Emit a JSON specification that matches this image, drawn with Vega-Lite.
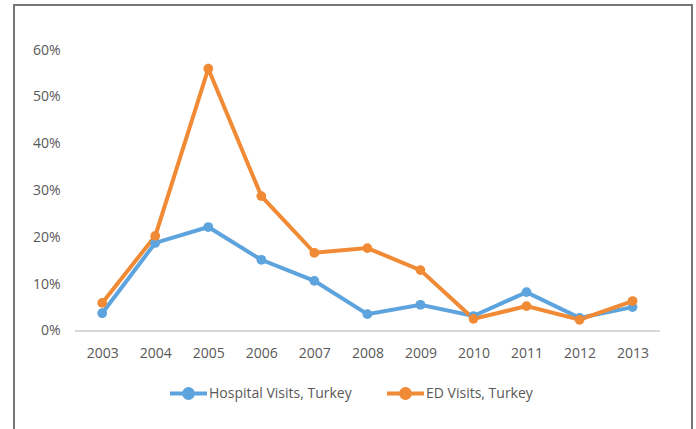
{
  "$schema": "https://vega.github.io/schema/vega-lite/v6.json",
  "autosize": "none",
  "padding": {"left": 14, "top": 5, "right": 4, "bottom": 0},
  "width": 678,
  "height": 425,
  "config": {
    "view": {"stroke": "#767676", "strokeWidth": 2},
    "font": "Open Sans",
    "axis": {"labelFont": "Open Sans", "labelFontSize": 14, "labelColor": "#595959", "grid": false, "domain": false, "ticks": false},
    "legend": {"labelFont": "Open Sans", "labelFontSize": 14, "labelColor": "#595959"}
  },
  "data": {
    "values": [
      {"year": 2003, "series": "Hospital Visits, Turkey", "value": 0.038},
      {"year": 2004, "series": "Hospital Visits, Turkey", "value": 0.188},
      {"year": 2005, "series": "Hospital Visits, Turkey", "value": 0.222},
      {"year": 2006, "series": "Hospital Visits, Turkey", "value": 0.152},
      {"year": 2007, "series": "Hospital Visits, Turkey", "value": 0.107},
      {"year": 2008, "series": "Hospital Visits, Turkey", "value": 0.036},
      {"year": 2009, "series": "Hospital Visits, Turkey", "value": 0.056},
      {"year": 2010, "series": "Hospital Visits, Turkey", "value": 0.032},
      {"year": 2011, "series": "Hospital Visits, Turkey", "value": 0.083},
      {"year": 2012, "series": "Hospital Visits, Turkey", "value": 0.028},
      {"year": 2013, "series": "Hospital Visits, Turkey", "value": 0.051},
      {"year": 2003, "series": "ED Visits, Turkey", "value": 0.060},
      {"year": 2004, "series": "ED Visits, Turkey", "value": 0.203},
      {"year": 2005, "series": "ED Visits, Turkey", "value": 0.560},
      {"year": 2006, "series": "ED Visits, Turkey", "value": 0.288},
      {"year": 2007, "series": "ED Visits, Turkey", "value": 0.167},
      {"year": 2008, "series": "ED Visits, Turkey", "value": 0.177},
      {"year": 2009, "series": "ED Visits, Turkey", "value": 0.130},
      {"year": 2010, "series": "ED Visits, Turkey", "value": 0.026},
      {"year": 2011, "series": "ED Visits, Turkey", "value": 0.053},
      {"year": 2012, "series": "ED Visits, Turkey", "value": 0.024},
      {"year": 2013, "series": "ED Visits, Turkey", "value": 0.064}
    ]
  },
  "encoding": {
    "x": {
      "field": "year", "type": "quantitative",
      "scale": {"domain": [2001.337, 2014.12], "nice": false, "zero": false},
      "axis": {"title": null, "values": [2003, 2004, 2005, 2006, 2007, 2008, 2009, 2010, 2011, 2012, 2013], "format": "d", "offset": -88, "labelPadding": 4}
    },
    "y": {
      "field": "value", "type": "quantitative",
      "scale": {"domain": [-0.2114, 0.6961], "nice": false, "zero": false},
      "axis": {"title": null, "values": [0, 0.1, 0.2, 0.3, 0.4, 0.5, 0.6], "format": ".0%", "offset": -48, "labelPadding": 2}
    }
  },
  "layer": [
    {
      "mark": {"type": "rule", "color": "#d9d9d9", "strokeWidth": 1},
      "encoding": {
        "x": {"datum": 2002.5},
        "x2": {"datum": 2013.5},
        "y": {"datum": 0}
      }
    },
    {
      "mark": {"type": "line", "strokeWidth": 4, "point": {"filled": true, "size": 95, "opacity": 1}},
      "encoding": {
        "color": {
          "field": "series", "type": "nominal",
          "scale": {"domain": ["Hospital Visits, Turkey", "ED Visits, Turkey"], "range": ["#5DA3DD", "#F08A35"]},
          "legend": {
            "title": null,
            "orient": "none",
            "direction": "horizontal",
            "legendX": 154,
            "legendY": 368,
            "padding": 0,
            "columnPadding": 27,
            "labelOffset": 0,
            "symbolType": "M-1,0L1,0M-0.24,0A0.24,0.24,0,1,1,0.24,0A0.24,0.24,0,1,1,-0.24,0Z",
            "symbolSize": 1369,
            "symbolStrokeWidth": 4,
            "symbolOpacity": 1
          }
        }
      }
    }
  ]
}
